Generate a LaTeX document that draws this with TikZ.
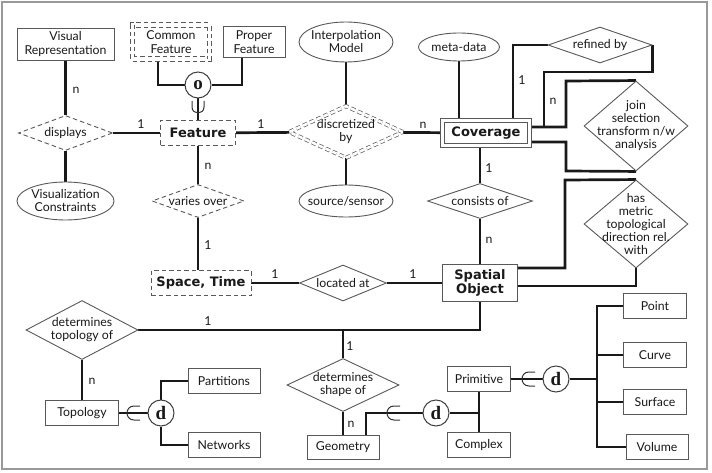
\documentclass[tikz,border=0pt]{standalone}
\usepackage{fontspec}
\setmainfont{Lato}
\newfontfamily\heavyfont{DejaVu Sans}
\newfontfamily\serfont{Liberation Serif}
\usetikzlibrary{shapes.geometric,backgrounds}
\begin{document}
\begin{tikzpicture}[x=1pt,y=-1pt,
  every node/.style={text=black!90},
  conn/.style={line width=2.7pt, black!90},
  nbase/.style={draw=black!65, line width=0.9pt, fill=white},
  ent/.style={nbase, rectangle, inner sep=1pt, align=center, font=\fontsize{12.3}{13.5}\selectfont},
  heavy/.style={font=\heavyfont\bfseries\fontsize{13}{14}\selectfont},
  attr/.style={nbase, ellipse, inner sep=0pt},
  rel/.style={nbase, diamond, inner sep=0pt},
  dsh/.style={dash pattern=on 4.5pt off 3pt},
  dbl/.style={double=white, double distance=3.5pt},
  lbl/.style={align=center, inner sep=0pt, font=\fontsize{12.3}{13}\selectfont},
  txt/.style={label={[lbl]center:#1}},
  card/.style={inner sep=0pt, font=\fontsize{12.3}{13}\selectfont},
  gc/.style={circle, draw=black!75, line width=1pt, fill=white, minimum size=26pt, inner sep=0pt, font=\serfont\bfseries\fontsize{19}{19}\selectfont},
  cup/.style={line width=1pt, black!80},
  frame/.style={draw=black!40, line width=1.3pt}]
\useasboundingbox (0,0) rectangle (712,473);
\draw[frame] (2,2) rectangle (707,469);

% top-left
\node[ent, minimum width=97pt, minimum height=32pt] (vr) at (65.5,44) {Visual\\Representation};
\node[ent, dsh, dbl, minimum width=77pt, minimum height=34pt] (cf) at (171,42) {Common\\Feature};
\node[ent, minimum width=62pt, minimum height=31pt] (pf) at (254,42) {Proper\\Feature};
\node[gc] (oc) at (198,85) {o};
\node[ent, dsh, heavy, minimum width=75pt, minimum height=25pt] (feat) at (198,133) {Feature};
\node[rel, dsh, minimum width=94pt, minimum height=35pt, txt=displays] (disp) at (65.5,133) {};
\node[attr, minimum width=97pt, minimum height=38pt, txt={Visualization\\Constraints}] (vc) at (65.5,201) {};
\node[rel, dsh, minimum width=92pt, minimum height=33pt, txt={varies over}] (vo) at (198,201) {};

% centre
\node[attr, minimum width=94pt, minimum height=40pt, txt={Interpolation\\Model}] (im) at (346,42) {};
\node[rel, dsh, double=white, double distance=2.6pt, line width=0.7pt, minimum width=114pt, minimum height=52pt, txt={discretized\\by}] (disc) at (346,132) {};
\node[attr, minimum width=94pt, minimum height=32pt, txt={source/sensor}] (ss) at (346,201) {};
\node[attr, minimum width=81pt, minimum height=28pt, txt={meta-data}] (md) at (459,47) {};
\node[ent, dbl, heavy, minimum width=86.7pt, minimum height=24.7pt] (cov) at (486,133) {Coverage};
\node[rel, minimum width=105pt, minimum height=35pt, txt={consists of}] (cons) at (480,201) {};

% right
\node[rel, minimum width=104pt, minimum height=36pt, txt={refined by}] (ref) at (600,45) {};
\node[rel, minimum width=104pt, minimum height=90pt, txt={join\\selection\\transform n/w\\analysis}] (jn) at (636,126) {};
\node[rel, minimum width=104pt, minimum height=88pt, txt={has\\metric\\topological\\direction rel.\\with}] (hm) at (636,224) {};

% middle row
\node[ent, dsh, heavy, minimum width=100pt, minimum height=25pt] (st) at (201,283) {Space, Time};
\node[rel, minimum width=87pt, minimum height=36pt, txt={located at}] (loc) at (343,283) {};
\node[ent, heavy, minimum width=75pt, minimum height=37pt] (so) at (480,283) {Spatial\\Object};

% bottom
\node[rel, minimum width=112pt, minimum height=59pt, txt={determines\\topology of}] (dt) at (82,330) {};
\node[rel, minimum width=112pt, minimum height=53pt, txt={determines\\shape of}] (ds) at (343,385) {};
\node[ent, minimum width=73pt, minimum height=25pt] (topo) at (82,413) {Topology};
\node[gc] (d1) at (161,413) {d};
\node[ent, minimum width=72pt, minimum height=25pt] (par) at (224,381) {Partitions};
\node[ent, minimum width=72pt, minimum height=25pt] (net) at (224,445) {Networks};
\node[ent, minimum width=72pt, minimum height=24pt] (geo) at (343,447) {Geometry};
\node[gc] (d2) at (436,413) {d};
\node[ent, minimum width=63pt, minimum height=25pt] (prim) at (479,379) {Primitive};
\node[ent, minimum width=63pt, minimum height=25pt] (cplx) at (479,445) {Complex};
\node[gc] (d3) at (556,379) {d};
\coordinate (bus) at (597,379);
\node[ent, minimum width=63pt, minimum height=25pt] (pt) at (655,306) {Point};
\node[ent, minimum width=63pt, minimum height=25pt] (cur) at (655,355) {Curve};
\node[ent, minimum width=63pt, minimum height=25pt] (sur) at (655,402) {Surface};
\node[ent, minimum width=62pt, minimum height=25pt] (vol) at (657,447) {Volume};

\begin{scope}[on background layer]
\draw[conn] (vr) -- (disp);
\draw[conn] (disp) -- (vc);
\draw[conn] (disp) -- (feat);
\draw[conn] (feat) -- (disc);
\draw[conn] (disc) -- (cov);
\draw[conn] (im) -- (disc);
\draw[conn] (disc) -- (ss);
\draw[conn] (md) -- (md |- cov.north);
\draw[conn] ([xshift=-13pt]cf.south) |- (oc);
\draw[conn] ([xshift=-12pt]pf.south) |- (oc);
\draw[conn] (oc) -- (feat);
\draw[conn] (feat) -- (vo);
\draw[conn] (vo) -- (vo |- st.north);
\draw[conn] (st) -- (loc);
\draw[conn] (loc) -- (so);
\draw[conn] (cov.south -| cons) -- (cons);
\draw[conn] (cons) -- (so);
\draw[conn] ([xshift=27pt]cov.north) |- (ref.west);
\draw[conn] (ref.east) |- (544,72) -- (544,127);
\draw[conn] (cov.east |- 0,127) -| (566,81) -- (jn.north);
\draw[conn] (cov.east |- 0,142) -| (566,171) -- (jn.south);
\draw[conn] (so.east |- 0,268) -| (565,180) -- (hm.north);
\draw[conn] (so.east |- 0,286) -| (hm.south);
\draw[conn] (so.south) |- (dt.east);
\draw[conn] (ds.north) -- (ds.north |- dt.east);
\draw[conn] (ds) -- (geo);
\draw[conn] (dt) -- (topo);
\draw[conn] (topo) -- (d1);
\draw[conn] (d1.north) |- (par.west);
\draw[conn] (d1.south) |- (net.west);
\draw[conn] ([xshift=23pt]geo.north) |- (d2.west);
\draw[conn] (d2) -- (d2 -| prim);
\draw[conn] (prim) -- (cplx);
\draw[conn] (prim) -- (d3);
\draw[conn] (d3) -- (bus);
\draw[conn] (pt.west) -| (bus);
\draw[conn] (cur.west) -| (bus);
\draw[conn] (sur.west) -| (bus);
\draw[conn] (vol.west) -| (bus);
\end{scope}

% subset symbols
\draw[cup] (192,101) -- (192,107) .. controls (192,115) and (204,115) .. (204,107) -- (204,101);
\draw[cup] (140,406) -- (134,406) .. controls (124.7,406) and (124.7,420) .. (134,420) -- (140,420);
\draw[cup] (400,406) -- (394,406) .. controls (384.7,406) and (384.7,420) .. (394,420) -- (400,420);
\draw[cup] (535,372) -- (529,372) .. controls (519.7,372) and (519.7,386) .. (529,386) -- (535,386);

% cardinalities
\node[card] (c1) at (76,90) {n};
\node[card] (c2) at (141,124) {1};
\node[card] (c3) at (261,124) {1};
\node[card] (c4) at (423,125) {n};
\node[card] (c5) at (208,166) {n};
\node[card] (c6) at (208,245) {1};
\node[card] (c7) at (489,168) {1};
\node[card] (c8) at (489,240) {n};
\node[card] (c9) at (522,80) {1};
\node[card] (c10) at (553,101) {n};
\node[card] (c11) at (275,274) {1};
\node[card] (c12) at (413,274) {1};
\node[card] (c13) at (208,321) {1};
\node[card] (c14) at (350,346) {1};
\node[card] (c15) at (92,381) {n};
\node[card] (c16) at (351,424) {n};
\end{tikzpicture}
\end{document}
